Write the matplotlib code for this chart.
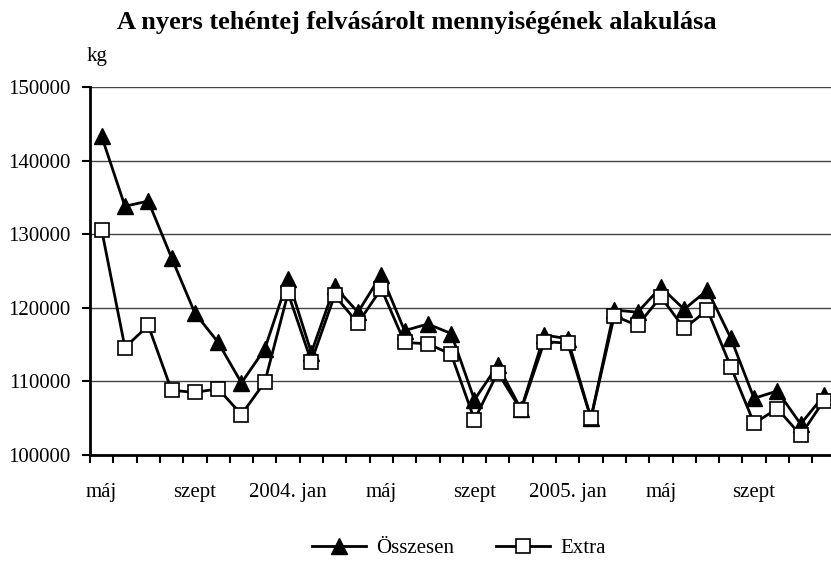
import matplotlib.pyplot as plt

plt.rcParams['font.family'] = ['Liberation Serif', 'DejaVu Serif']

# havi adatok 2003 máj - 2005 dec
osszesen = [143300, 133800, 134500, 126800, 119300, 115300, 109800, 114400,
            123900, 113900, 122900, 119400, 124500, 116900, 117800, 116500,
            107500, 112200, 106200, 116300, 115800, 105000, 119700, 119400,
            122800, 119800, 122400, 115900, 107700, 108700, 104200, 108100]
extra = [130600, 114600, 117600, 108800, 108500, 109000, 105500, 109900,
         122000, 112700, 121700, 117900, 122600, 115300, 115100, 113700,
         104800, 111200, 106100, 115400, 115200, 105000, 118900, 117600,
         121500, 117200, 119700, 112000, 104300, 106300, 102700, 107400]
tick_labels = ['máj', 'szept', '2004. jan', 'máj', 'szept', '2005. jan', 'máj', 'szept']

n = len(osszesen)
x = list(range(n))

fig = plt.figure(figsize=(8.31, 5.64), dpi=100)
ax = fig.add_axes([90 / 831, 109 / 564, 745.6 / 831, 368 / 564])

ax.plot(x, osszesen, color='black', lw=2, marker='^', ms=11,
        mfc='black', mec='black', label='Összesen')
ax.plot(x, extra, color='black', lw=2, marker='s', ms=10.5,
        mfc='white', mec='black', mew=1.2, label='Extra')

ax.set_xlim(-0.5, n - 0.5)
ax.set_ylim(100000, 150000)
ax.set_yticks(range(100000, 150001, 10000))
ax.yaxis.grid(True, color='#444444', lw=1)
ax.set_axisbelow(True)

ax.set_xticks([i - 0.5 for i in range(n + 1)], minor=False)
ax.set_xticklabels([])
ax.set_xticks(list(range(0, n, 4)), minor=True)
ax.set_xticklabels(tick_labels, minor=True)
ax.tick_params(axis='x', which='major', direction='out', length=6, width=1.5)
ax.tick_params(axis='x', which='minor', length=0, pad=20, labelsize=15)
ax.tick_params(axis='y', direction='out', length=6, width=1.5, labelsize=15, pad=8)

for s in ['top', 'right']:
    ax.spines[s].set_visible(False)
ax.spines['left'].set_linewidth(2)
ax.spines['bottom'].set_linewidth(2)

fig.text(417 / 831, 1 - 23 / 564, 'A nyers tehéntej felvásárolt mennyiségének alakulása',
         ha='center', va='center', fontsize=19, fontweight='bold')
fig.text(97 / 831, 1 - 57 / 564, 'kg', ha='center', va='center', fontsize=15)

fig.legend(loc='center', bbox_to_anchor=(459 / 831, 1 - 548 / 564), ncol=2,
           frameon=False, fontsize=15, handlelength=2.6, handletextpad=0.5,
           columnspacing=2.0)

fig.savefig('out.png', dpi=100)
